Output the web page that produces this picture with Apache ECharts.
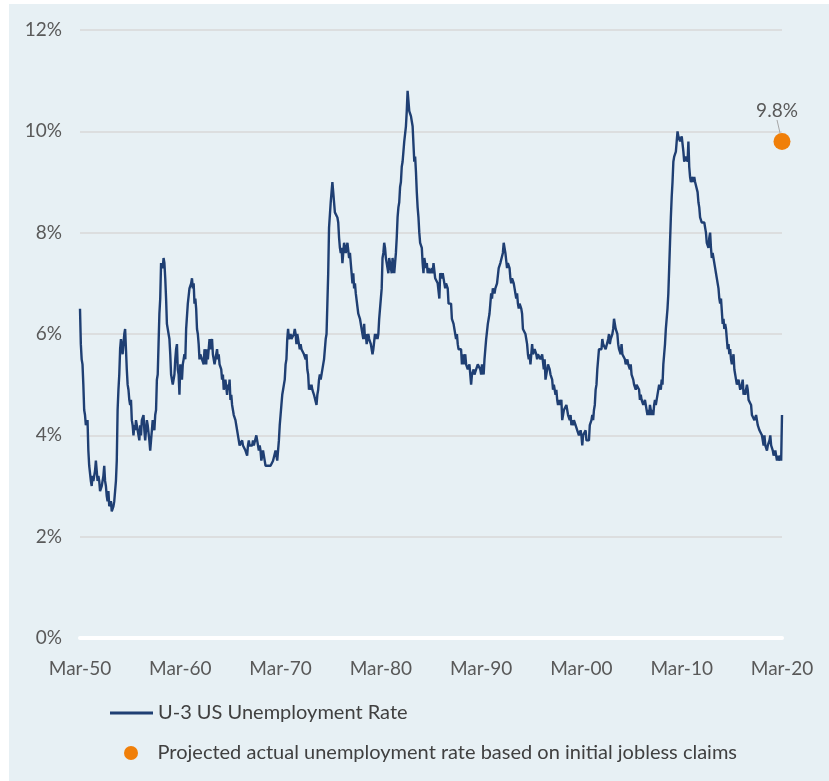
<!DOCTYPE html>
<html>
<head>
<meta charset="utf-8">
<script src="https://cdn.jsdelivr.net/npm/echarts@6/dist/echarts.min.js"></script>
<style>
  html, body { margin: 0; padding: 0; background: #ffffff; }
  #chart { position: absolute; left: 9px; top: 4px; width: 820px; height: 777px; }
</style>
</head>
<body>
<div id="chart"></div>
<script>
// U-3 US unemployment rate, monthly, % (series starts Mar 1950)
const rates1950s = [
  6.5, 5.8, 5.5, 5.4, 5.0, 4.5, 4.4, 4.2, 4.2, 4.3,
  3.7, 3.4, 3.4, 3.1, 3.0, 3.2, 3.1, 3.1, 3.3, 3.5, 3.5, 3.1,
  3.2, 3.1, 2.9, 2.9, 3.0, 3.0, 3.2, 3.4, 3.1, 3.0, 2.8, 2.7,
  2.9, 2.6, 2.6, 2.7, 2.5, 2.5, 2.6, 2.7, 2.9, 3.1, 3.5, 4.5,
  4.9, 5.2, 5.7, 5.9, 5.9, 5.6, 5.8, 6.0, 6.1, 5.7, 5.3, 5.0,
  4.9, 4.7, 4.6, 4.7, 4.3, 4.2, 4.0, 4.2, 4.1, 4.3, 4.2, 4.2,
  4.0, 3.9, 4.2, 4.0, 4.3, 4.3, 4.4, 4.1, 3.9, 3.9, 4.3, 4.2,
  4.2, 3.9, 3.7, 3.9, 4.1, 4.3, 4.2, 4.1, 4.4, 4.5, 5.1, 5.2,
  5.8, 6.4, 6.7, 7.4, 7.4, 7.3, 7.5, 7.4, 7.1, 6.7, 6.2, 6.2,
  6.0, 5.9, 5.6, 5.2, 5.1, 5.0, 5.1, 5.2, 5.5, 5.7, 5.8, 5.3
];
const rates1960s = [
  5.2, 4.8, 5.4, 5.2, 5.1, 5.4, 5.5, 5.6, 5.5, 6.1, 6.1, 6.6,
  6.6, 6.9, 6.9, 7.0, 7.1, 6.9, 7.0, 6.6, 6.7, 6.5, 6.1, 6.0,
  5.8, 5.5, 5.6, 5.6, 5.5, 5.5, 5.4, 5.7, 5.6, 5.4, 5.7, 5.5,
  5.7, 5.9, 5.7, 5.7, 5.9, 5.6, 5.6, 5.4, 5.5, 5.5, 5.7, 5.5,
  5.6, 5.4, 5.4, 5.3, 5.1, 5.2, 4.9, 5.0, 5.1, 5.1, 4.8, 5.0,
  4.9, 5.1, 4.7, 4.8, 4.6, 4.6, 4.4, 4.4, 4.3, 4.2, 4.1, 4.0,
  4.0, 3.8, 3.8, 3.8, 3.9, 3.8, 3.8, 3.8, 3.7, 3.7, 3.6, 3.8,
  3.9, 3.8, 3.8, 3.8, 3.8, 3.9, 3.8, 3.8, 3.8, 4.0, 3.9, 3.8,
  3.7, 3.8, 3.7, 3.5, 3.5, 3.7, 3.7, 3.5, 3.4, 3.4, 3.4, 3.4,
  3.4, 3.4, 3.4, 3.4, 3.4, 3.5, 3.5, 3.5, 3.7, 3.7, 3.5, 3.5
];
const rates1970s = [
  3.9, 4.2, 4.4, 4.6, 4.8, 4.9, 5.0, 5.1, 5.4, 5.5, 5.9, 6.1,
  5.9, 5.9, 6.0, 5.9, 5.9, 5.9, 6.0, 6.1, 6.0, 5.8, 6.0, 6.0,
  5.8, 5.7, 5.8, 5.7, 5.7, 5.7, 5.6, 5.6, 5.5, 5.6, 5.3, 5.2,
  4.9, 5.0, 4.9, 5.0, 4.9, 4.9, 4.8, 4.8, 4.8, 4.6, 4.8, 4.9,
  5.1, 5.2, 5.1, 5.1, 5.1, 5.4, 5.5, 5.5, 5.9, 6.0, 6.6, 7.2,
  8.1, 8.1, 8.6, 8.8, 9.0, 8.8, 8.6, 8.4, 8.4, 8.4, 8.3, 8.2,
  7.9, 7.7, 7.6, 7.7, 7.4, 7.6, 7.8, 7.8, 7.6, 7.7, 7.8, 7.8,
  7.5, 7.6, 7.4, 7.2, 7.0, 7.2, 6.9, 7.0, 6.8, 6.8, 6.8, 6.4,
  6.4, 6.3, 6.3, 6.1, 6.0, 5.9, 6.2, 5.9, 6.0, 5.8, 5.9, 6.0,
  5.9, 5.9, 5.8, 5.8, 5.6, 5.7, 5.7, 6.0, 5.9, 6.0, 5.9, 6.0
];
const rates1980s = [
  6.3, 6.3, 6.3, 6.9, 7.5, 7.6, 7.8, 7.7, 7.5, 7.5, 7.5, 7.2,
  7.5, 7.4, 7.4, 7.2, 7.5, 7.5, 7.2, 7.4, 7.6, 7.9, 8.3, 8.5,
  8.6, 8.9, 9.0, 9.3, 9.4, 9.6, 9.8, 9.8, 10.1, 10.4, 10.8, 10.8,
  10.4, 10.4, 10.3, 10.2, 10.1, 10.1, 9.4, 9.5, 9.2, 8.8, 8.5, 8.3,
  8.0, 7.8, 7.8, 7.7, 7.4, 7.2, 7.5, 7.5, 7.3, 7.4, 7.2, 7.3,
  7.3, 7.2, 7.2, 7.3, 7.2, 7.4, 7.4, 7.1, 7.1, 7.1, 7.0, 7.0,
  6.7, 7.2, 7.2, 7.1, 7.2, 7.2, 7.0, 6.9, 7.0, 7.0, 6.9, 6.6,
  6.6, 6.6, 6.6, 6.3, 6.3, 6.2, 6.1, 6.0, 5.9, 6.0, 5.8, 5.7,
  5.7, 5.7, 5.7, 5.4, 5.6, 5.4, 5.4, 5.6, 5.4, 5.4, 5.3, 5.3,
  5.4, 5.2, 5.0, 5.2, 5.2, 5.3, 5.2, 5.2, 5.3, 5.3, 5.4, 5.4
];
const rates1990s = [
  5.4, 5.3, 5.2, 5.4, 5.4, 5.2, 5.5, 5.7, 5.9, 5.9, 6.2, 6.3,
  6.4, 6.6, 6.8, 6.7, 6.9, 6.9, 6.8, 6.9, 6.9, 7.0, 7.0, 7.3,
  7.3, 7.4, 7.4, 7.4, 7.6, 7.8, 7.7, 7.6, 7.6, 7.3, 7.4, 7.4,
  7.3, 7.1, 7.0, 7.1, 7.1, 7.0, 6.9, 6.8, 6.7, 6.8, 6.6, 6.5,
  6.6, 6.6, 6.5, 6.4, 6.1, 6.1, 6.1, 6.0, 5.9, 5.8, 5.6, 5.5,
  5.6, 5.4, 5.4, 5.8, 5.6, 5.6, 5.7, 5.7, 5.6, 5.5, 5.6, 5.6,
  5.6, 5.5, 5.5, 5.6, 5.6, 5.3, 5.5, 5.1, 5.2, 5.2, 5.4, 5.4,
  5.3, 5.2, 5.2, 5.1, 4.9, 5.0, 4.9, 4.8, 4.9, 4.7, 4.6, 4.7,
  4.6, 4.6, 4.7, 4.3, 4.4, 4.5, 4.5, 4.5, 4.6, 4.5, 4.4, 4.4,
  4.3, 4.4, 4.2, 4.3, 4.2, 4.3, 4.3, 4.2, 4.2, 4.1, 4.1, 4.0
];
const rates2000s = [
  4.0, 4.1, 4.0, 3.8, 4.0, 4.0, 4.0, 4.1, 3.9, 3.9, 3.9, 3.9,
  4.2, 4.2, 4.3, 4.4, 4.3, 4.5, 4.6, 4.9, 5.0, 5.3, 5.5, 5.7,
  5.7, 5.7, 5.7, 5.9, 5.8, 5.8, 5.8, 5.7, 5.7, 5.7, 5.9, 6.0,
  5.8, 5.9, 5.9, 6.0, 6.1, 6.3, 6.2, 6.1, 6.1, 6.0, 5.8, 5.7,
  5.7, 5.6, 5.8, 5.6, 5.6, 5.6, 5.5, 5.4, 5.4, 5.5, 5.4, 5.4,
  5.3, 5.4, 5.2, 5.2, 5.1, 5.0, 5.0, 4.9, 5.0, 5.0, 5.0, 4.9,
  4.7, 4.8, 4.7, 4.7, 4.6, 4.6, 4.7, 4.7, 4.5, 4.4, 4.5, 4.4,
  4.6, 4.5, 4.4, 4.5, 4.4, 4.6, 4.7, 4.6, 4.7, 4.7, 4.7, 5.0,
  5.0, 4.9, 5.1, 5.0, 5.4, 5.6, 5.8, 6.1, 6.1, 6.5, 6.8, 7.3,
  7.8, 8.3, 8.7, 9.0, 9.4, 9.5, 9.5, 9.6, 9.8, 10.0, 9.9, 9.9
];
const rates2010s = [
  9.8, 9.8, 9.9, 9.9, 9.6, 9.4, 9.4, 9.5, 9.5, 9.4, 9.8, 9.3,
  9.1, 9.0, 9.0, 9.1, 9.0, 9.1, 9.0, 9.0, 9.0, 8.8, 8.6, 8.5,
  8.3, 8.3, 8.2, 8.2, 8.2, 8.2, 8.2, 8.0, 7.8, 7.8, 7.7, 7.9,
  8.0, 7.7, 7.5, 7.6, 7.5, 7.5, 7.3, 7.2, 7.2, 7.2, 6.9, 6.7,
  6.6, 6.7, 6.7, 6.2, 6.3, 6.1, 6.2, 6.1, 5.9, 5.7, 5.8, 5.6,
  5.7, 5.5, 5.4, 5.4, 5.6, 5.3, 5.2, 5.1, 5.0, 5.0, 5.1, 5.0,
  4.9, 4.9, 5.0, 5.1, 4.8, 4.9, 4.8, 4.9, 5.0, 4.9, 4.7, 4.7,
  4.7, 4.6, 4.4, 4.4, 4.4, 4.3, 4.3, 4.4, 4.3, 4.2, 4.2, 4.1,
  4.1, 4.1, 4.0, 4.0, 3.8, 4.0, 3.8, 3.8, 3.7, 3.8, 3.8, 3.9,
  4.0, 3.8, 3.8, 3.7, 3.6, 3.6, 3.7, 3.6, 3.5, 3.6, 3.5, 3.5
];
const rates2020 = [3.6, 3.5, 4.4];

// Projection from initial jobless claims, shown at the latest month
const projectedRate = 9.8;

const tickLabels = ['Mar-50', 'Mar-60', 'Mar-70', 'Mar-80', 'Mar-90', 'Mar-00', 'Mar-10', 'Mar-20'];
const yTicks = [0, 2, 4, 6, 8, 10, 12];
const lineName = 'U-3 US Unemployment Rate';
const dotName = 'Projected actual unemployment rate based on initial jobless claims';

const rates = [].concat(rates1950s, rates1960s, rates1970s, rates1980s, rates1990s, rates2000s, rates2010s, rates2020);

// Month labels such as "Mar-50", starting March 1950
const monthNames = ['Jan', 'Feb', 'Mar', 'Apr', 'May', 'Jun', 'Jul', 'Aug', 'Sep', 'Oct', 'Nov', 'Dec'];
const months = rates.map(function (_, i) {
  const m = (2 + i) % 12;
  const y = 1950 + Math.floor((2 + i) / 12);
  return monthNames[m] + '-' + String(y % 100).padStart(2, '0');
});
const lastMonth = months[months.length - 1];

const FONT = 'Lato';
const TEXT = '#595959';
const chart = echarts.init(document.getElementById('chart'));
chart.setOption({
  backgroundColor: '#e7f0f4',
  animation: false,
  textStyle: { fontFamily: FONT },
  grid: { left: 71, right: 47, top: 26, bottom: 143, containLabel: false },
  legend: [
    {
      data: [{ name: lineName, icon: 'rect' }],
      left: 96, top: 694, orient: 'vertical',
      itemWidth: 43, itemHeight: 3,
      textStyle: { fontFamily: FONT, fontSize: 20, color: '#404040' },
      selectedMode: false
    },
    {
      data: [{ name: dotName, icon: 'circle' }],
      left: 110, top: 734, orient: 'vertical',
      itemWidth: 43, itemHeight: 14,
      textStyle: { fontFamily: FONT, fontSize: 20, color: '#404040' },
      selectedMode: false
    }
  ],
  xAxis: {
    type: 'category',
    data: months,
    boundaryGap: false,
    axisLine: { show: true, lineStyle: { color: '#ffffff', width: 4 } },
    axisTick: { show: false },
    splitLine: { show: false },
    axisLabel: {
      interval: function (index, value) { return tickLabels.indexOf(value) !== -1; },
      color: TEXT, fontSize: 19, fontFamily: FONT, margin: 21
    }
  },
  yAxis: {
    type: 'value',
    min: yTicks[0], max: yTicks[yTicks.length - 1], interval: 2,
    axisLine: { show: false },
    axisTick: { show: false },
    splitLine: { lineStyle: { color: '#d9d9d9', width: 1.5 } },
    axisLabel: {
      formatter: '{value}%', color: TEXT, fontSize: 19, fontFamily: FONT, margin: 18
    }
  },
  series: [
    {
      name: lineName,
      type: 'line',
      data: rates,
      showSymbol: false,
      symbol: 'none',
      lineStyle: { color: '#1f3f73', width: 2.4 },
      itemStyle: { color: '#1f3f73' },
      z: 3
    },
    {
      name: dotName,
      type: 'scatter',
      data: [[lastMonth, projectedRate]],
      symbolSize: 17,
      itemStyle: { color: '#f07f09', opacity: 1 },
      label: {
        show: true,
        position: 'top',
        formatter: function (p) { return p.value[1].toFixed(1) + '%'; },
        color: TEXT, fontSize: 19, fontFamily: FONT
      },
      labelLayout: { dx: -5, dy: -8 },
      labelLine: { show: true, lineStyle: { color: '#a6a6a6', width: 1 } },
      z: 4
    }
  ]
});
</script>
</body>
</html>
